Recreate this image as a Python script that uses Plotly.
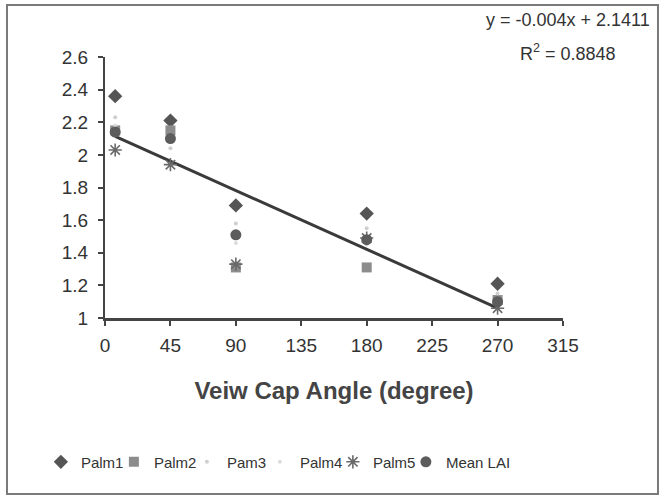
import plotly.graph_objects as go

# ---- data ----
angles = [7, 45, 90, 180, 270]
palm1 = [2.36, 2.21, 1.69, 1.64, 1.21]
palm2 = [2.15, 2.15, 1.31, 1.31, 1.11]
pam3 = [2.23, 2.04, 1.58, 1.55, 1.15]
palm4 = [2.18, 2.12, 1.46, 1.45, 1.08]
palm5 = [2.03, 1.94, 1.33, 1.49, 1.06]
mean_lai = [2.14, 2.10, 1.51, 1.48, 1.10]
trend_slope = -0.004
trend_intercept = 2.1411
r_squared = 0.8848
x_ticks = [0, 45, 90, 135, 180, 225, 270, 315]
y_ticks = [1, 1.2, 1.4, 1.6, 1.8, 2, 2.2, 2.4, 2.6]

FONT_REG = "Liberation Sans, Arial, sans-serif"

fig = go.Figure()

trend_x = [min(angles), max(angles)]
trend_y = [trend_slope * v + trend_intercept for v in trend_x]
fig.add_trace(go.Scatter(x=trend_x, y=trend_y, mode="lines",
                         line=dict(color="#3a3a3a", width=3),
                         showlegend=False, hoverinfo="skip"))

series = [
    ("Palm1", palm1, dict(symbol="diamond", size=11, color="#555555")),
    ("Palm2", palm2, dict(symbol="square", size=10, color="#8c8c8c")),
    ("Pam3", pam3, dict(symbol="circle", size=4, color="#cfcfcf")),
    ("Palm4", palm4, dict(symbol="circle", size=4, color="#dcdcdc")),
    ("Palm5", palm5, dict(symbol="asterisk-open", size=11, color="#6a6a6a",
                          line=dict(color="#6a6a6a", width=1.6))),
    ("Mean LAI", mean_lai, dict(symbol="circle", size=11, color="#5c5c5c")),
]
for name, vals, mk in series:
    fig.add_trace(go.Scatter(x=angles, y=vals, mode="markers", name=name, marker=mk))

# blank legend spacer so the last legend label is not clipped
fig.add_trace(go.Scatter(x=angles[:1], y=mean_lai[:1], mode="markers", name=" ",
                         visible="legendonly",
                         marker=dict(opacity=0, color="rgba(0,0,0,0)"),
                         hoverinfo="skip"))

# border of the whole chart (paper coords)
fig.add_shape(type="rect", xref="paper", yref="paper",
              x0=-0.214, x1=1.2074, y0=-0.674, y1=1.199,
              line=dict(color="#7a7a7a", width=2))

fig.add_annotation(xref="paper", yref="paper", x=1.011, y=1.142,
                   text=f"y = {trend_slope}x + {trend_intercept}",
                   showarrow=False, xanchor="center", yanchor="middle",
                   font=dict(family=FONT_REG, size=18, color="#333333"))
fig.add_annotation(xref="paper", yref="paper", x=1.011, y=1.019,
                   text=f"R<sup>2</sup> = {r_squared}",
                   showarrow=False, xanchor="center", yanchor="middle",
                   font=dict(family=FONT_REG, size=18, color="#333333"))

fig.update_layout(
    width=661, height=498,
    margin=dict(l=105, r=98, t=57, b=180),
    paper_bgcolor="white", plot_bgcolor="white",
    font=dict(family=FONT_REG, color="#333333"),
    xaxis=dict(range=[0, 315], tickvals=x_ticks, showgrid=False, zeroline=False,
               showline=True, linecolor="#444444", linewidth=3,
               ticks="outside", ticklen=5, tickcolor="#444444", tickwidth=1.5,
               tickfont=dict(size=19, color="#333333", family=FONT_REG),
               ticklabelstandoff=3,
               title=dict(text="<b>Veiw Cap Angle (degree)</b>", standoff=28,
                          font=dict(size=24, color="#444444", family=FONT_REG))),
    yaxis=dict(range=[1, 2.6], tickvals=y_ticks, showgrid=False, zeroline=False,
               showline=True, linecolor="#444444", linewidth=2,
               ticks="outside", ticklen=5, tickcolor="#444444", tickwidth=1.5,
               tickfont=dict(size=19, color="#333333", family=FONT_REG),
               ticklabelstandoff=6),
    legend=dict(orientation="h", x=-0.14, xanchor="left", y=-0.552, yanchor="middle",
                font=dict(size=15, family=FONT_REG, color="#333333"),
                itemwidth=30, entrywidth=28, entrywidthmode="pixels",
                bgcolor="rgba(0,0,0,0)"),
)

fig.write_html("out.html", config={"displayModeBar": False},
               post_script="document.body.style.margin='0px';")
